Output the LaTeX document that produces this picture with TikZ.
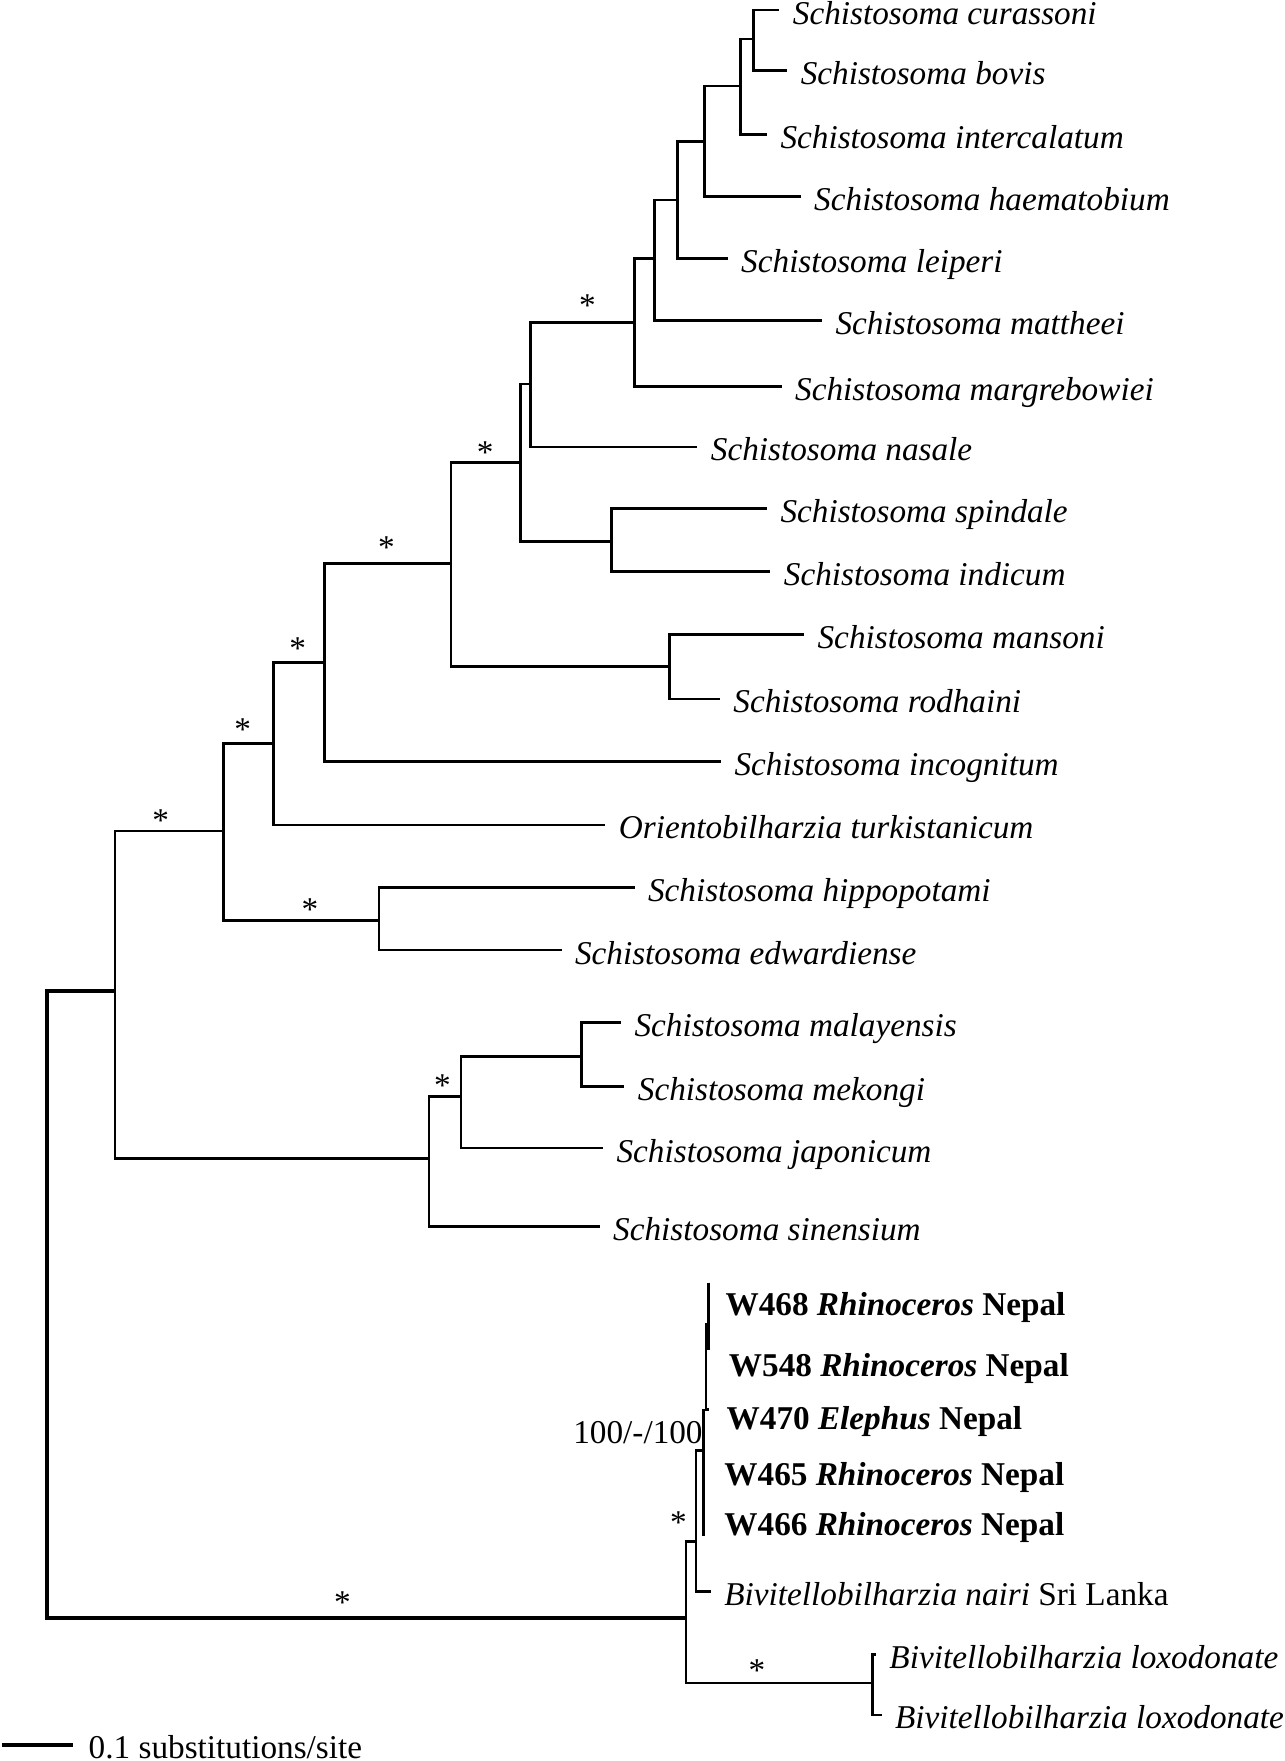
\documentclass[tikz,border=0pt]{standalone}
\usepackage{fontspec}
\setmainfont{Liberation Serif}
\newcommand{\treefont}{\fontsize{14.8}{17}\selectfont}

\begin{document}
\begin{tikzpicture}[x=0.5pt, y=-0.5pt,
		br/.style={line width=1.2pt},
		rootbr/.style={line width=1.8pt},
		leaf/.style={anchor=west, inner sep=0pt, outer xsep=6pt, text height=12.4pt, text depth=0pt, font=\treefont\itshape},
		sleaf/.style={leaf, font=\treefont\bfseries},
		bs/.style={anchor=base, inner sep=0pt, font=\treefont}]
		\useasboundingbox (0,0) rectangle (1144,1568);

		% inner nodes
		\coordinate (R) at (41.7,1160);
		\coordinate (A) at (102.5,882);
		\coordinate (B) at (199,740);
		\coordinate (C) at (243.6,662);
		\coordinate (D) at (289,589.8);
		\coordinate (E) at (401.5,502);
		\coordinate (F) at (463.5,412);
		\coordinate (Q) at (472.6,342);
		\coordinate (G) at (565,287);
		\coordinate (H) at (583,230);
		\coordinate (L) at (603.3,178);
		\coordinate (M) at (627,126);
		\coordinate (N) at (659.4,76.6);
		\coordinate (O) at (671,34.7);
		\coordinate (SI) at (544.5,482);
		\coordinate (MR) at (596,593.5);
		\coordinate (HE) at (337.4,819.6);
		\coordinate (AS1) at (382,1031.8);
		\coordinate (AS2) at (410.5,976.3);
		\coordinate (AS3) at (517.5,940.7);
		\coordinate (J) at (610.7,1440.7);
		\coordinate (K) at (619.6,1372.4);
		\coordinate (Nep) at (626.5,1291.7);
		\coordinate (LX) at (777,1498.6);

		% leaves
		\draw (694,9) node[leaf] (cur) {Schistosoma curassoni};
		\draw (701,63) node[leaf] (bov) {Schistosoma bovis};
		\draw (683,119.6) node[leaf] (int) {Schistosoma intercalatum};
		\draw (713,175) node[leaf] (hae) {Schistosoma haematobium};
		\draw (648,230) node[leaf] (lei) {Schistosoma leiperi};
		\draw (732,285.5) node[leaf] (mat) {Schistosoma mattheei};
		\draw (696,344) node[leaf] (mar) {Schistosoma margrebowiei};
		\draw (621,398) node[leaf] (nas) {Schistosoma nasale};
		\draw (683,453) node[leaf] (spi) {Schistosoma spindale};
		\draw (686,509) node[leaf] (ind) {Schistosoma indicum};
		\draw (716,564.7) node[leaf] (man) {Schistosoma mansoni};
		\draw (641,622.3) node[leaf] (rod) {Schistosoma rodhaini};
		\draw (642,678) node[leaf] (inc) {Schistosoma incognitum};
		\draw (539,734.5) node[leaf] (ori) {Orientobilharzia turkistanicum};
		\draw (565,790) node[leaf] (hip) {Schistosoma hippopotami};
		\draw (500,846) node[leaf] (edw) {Schistosoma edwardiense};
		\draw (553,910.4) node[leaf] (mal) {Schistosoma malayensis};
		\draw (556,967.4) node[leaf] (mek) {Schistosoma mekongi};
		\draw (537,1022.3) node[leaf] (jap) {Schistosoma japonicum};
		\draw (534,1092) node[leaf] (sin) {Schistosoma sinensium};
		\draw (634,1159) node[sleaf] (w468) {W468 \textit{Rhinoceros} Nepal};
		\draw (637,1213) node[sleaf] (w548) {W548 \textit{Rhinoceros} Nepal};
		\draw (635,1260) node[sleaf] (w470) {W470 \textit{Elephus} Nepal};
		\draw (633,1310) node[sleaf] (w465) {W465 \textit{Rhinoceros} Nepal};
		\draw (633,1355) node[sleaf] (w466) {W466 \textit{Rhinoceros} Nepal};
		\draw (633,1417) node[leaf] (nai) {Bivitellobilharzia nairi \textup{Sri Lanka}};
		\draw (780,1473) node[leaf] (lx1) {Bivitellobilharzia loxodonate};
		\draw (785,1527) node[leaf] (lx2) {Bivitellobilharzia loxodonate};

		% branches
		\draw[rootbr] (R) |- (A);
		\draw[rootbr] (R) |- (J);
		\foreach \p/\c in {A/B, A/AS1, B/C, B/HE, C/D, C/ori, D/E, D/inc, E/F, E/MR,
				F/Q, F/SI, Q/G, Q/nas, G/H, G/mar, H/L, H/mat, L/M, L/lei, M/N, M/hae,
				N/O, N/int, O/cur, O/bov, SI/spi, SI/ind, MR/man, MR/rod, HE/hip, HE/edw,
				AS1/AS2, AS1/sin, AS2/AS3, AS2/jap, AS3/mal, AS3/mek,
				J/K, J/LX, K/Nep, K/nai, LX/lx1, LX/lx2}
			\draw[br] (\p) |- (\c);

		% Nepal samples, near zero lengths
		\coordinate (np1) at (631,1142);
		\coordinate (np2) at (631,1202);
		\coordinate (np3) at (628.5,1178);
		\coordinate (np4) at (628.5,1255);
		\coordinate (np5) at (631,1255);
		\coordinate (np6) at (626.5,1368);
		\draw[line width=1.4pt] (np1) -- (np2);
		\draw[br] (np3) -- (np4) -- (np5);
		\draw[br] (np4 -| Nep) -- (np6);
		\draw[br] (Nep) -- (np4 -| Nep);

		% support values
		\draw (626,1285) node[bs, anchor=base east] (sup) {100/-/100};
		\foreach \x/\y [count=\i] in {143/725, 216/644, 265/572, 344/482, 432/398, 523/267,
				276/805, 394/961, 305/1422, 604/1350, 674/1482}
			\draw (\x,\y+15) node[bs] (bs\i) {*};

		% scale bar
		\coordinate (sb1) at (2,1553.5);
		\coordinate (sb2) at (65,1553.5);
		\draw[line width=1.6pt] (sb1) -- (sb2);
		\draw (78.6,1566) node[bs, anchor=base west] (sbl) {0.1 substitutions/site};
	\end{tikzpicture}
\end{document}
